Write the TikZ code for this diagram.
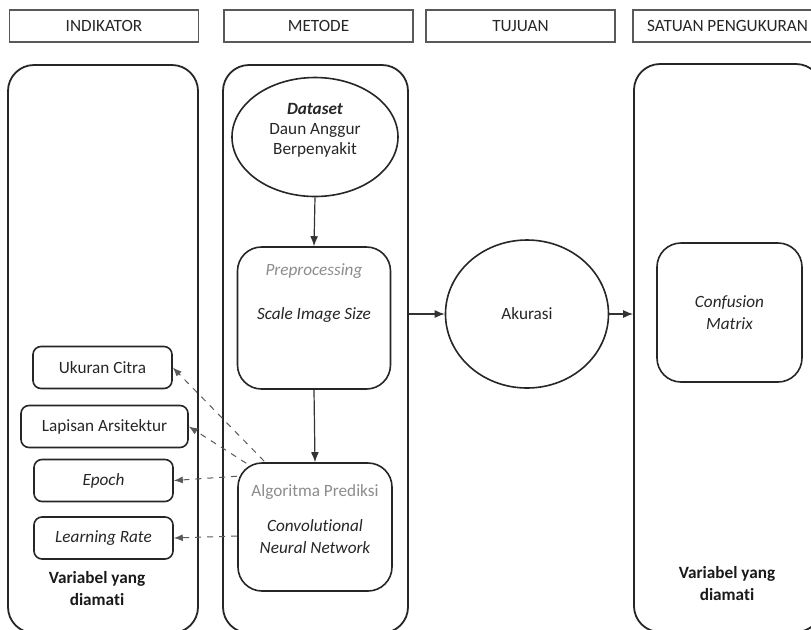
\documentclass[tikz,border=0pt]{standalone}
\usepackage{fontspec}
\setmainfont{Carlito}[Ligatures=NoCommon]
\usetikzlibrary{positioning,arrows.meta,shapes,calc}

\begin{document}
\begin{tikzpicture}[
  x=0.5pt,y=-0.5pt,
  font=\fontsize{8.6}{10.5}\selectfont,
  headbox/.style={rectangle,draw=black!65,line width=0.6pt,minimum width=94.5pt,minimum height=16pt,inner sep=0pt,text=black!85},
  colbox/.style={rectangle,draw=black!85,line width=0.9pt,rounded corners=13pt,minimum width=#1,minimum height=284pt,inner sep=0pt},
  stepbox/.style={rectangle,draw=black!85,line width=0.8pt,rounded corners=12pt,inner sep=0pt,align=center,text=black!85},
  varbox/.style={rectangle,draw=black!85,line width=0.8pt,rounded corners=4pt,minimum height=21pt,inner sep=0pt,text=black!85},
  roundnode/.style={ellipse,draw=black!85,line width=0.8pt,inner sep=0pt,align=center,text=black!85},
  faint/.style={text=black!45,inner sep=0pt},
  flow/.style={-{Latex[length=5pt,width=4pt]},line width=0.6pt,black!80},
  param/.style={-{Latex[length=4.5pt,width=3.5pt]},dashed,line width=0.5pt,black!65},
  note/.style={font=\fontsize{8.6}{11}\selectfont\bfseries,align=center,text=black!90},
]
\useasboundingbox (0,0) rectangle (811,629);
\clip (0,0) rectangle (811,629);

% === HEADERS ===
\node[headbox] (hInd) at (104,26)   {INDIKATOR};
\node[headbox] (hMet) at (318.5,26) {METODE};
\node[headbox] (hTuj) at (520.5,26) {TUJUAN};
\node[headbox] (hSat) at (727.5,26) {SATUAN PENGUKURAN};

% === COLUMNS ===
\node[colbox=95pt]   (colInd) at (103,349) {};
\node[colbox=92.5pt] (colMet) at (315.5,349) {};
\node[colbox=94pt]   (colSat) at (728,348) {};

% === METODE ===
\node[roundnode,minimum width=83pt,minimum height=59.5pt] (dataset) at (315,137) {};
\node[align=center,text=black!85,font=\fontsize{8.6}{10}\selectfont] (dataT) at (315,130)
  {\textbf{\textit{Dataset}}\\Daun Anggur\\Berpenyakit};

\node[stepbox,minimum width=76.5pt,minimum height=71pt] (prep) at (314,318) {};
\node[faint,font=\fontsize{8.6}{10.5}\selectfont\itshape] (prepT) at (314,271) {Preprocessing};
\node[text=black!85,font=\fontsize{8.6}{10.5}\selectfont\itshape] (prepM) at (314,315) {Scale Image Size};

\node[stepbox,minimum width=77pt,minimum height=64pt] (cnn) at (315,527) {};
\node[faint] (cnnT) at (315,492) {Algoritma Prediksi};
\node[text=black!85,align=center,font=\fontsize{8.6}{11}\selectfont\itshape] (cnnM) at (315,537) {Convolutional\\Neural Network};

\draw[flow] (dataset.south) -- (prep.north);
\draw[flow] (prep.south) -- (cnn.north);

% === TUJUAN ===
\node[roundnode,minimum width=81.5pt,minimum height=74pt] (akurasi) at (527,314) {Akurasi};
\draw[flow] (akurasi.west -| colMet.east) -- (akurasi.west);

% === SATUAN PENGUKURAN ===
\node[stepbox,minimum width=72.5pt,minimum height=69.5pt,font=\fontsize{8.6}{11}\selectfont\itshape] (confm) at (729.5,312.5) {Confusion\\Matrix};
\draw[flow] (akurasi.east) -- (akurasi.east -| colSat.west);
\node[note] (varSat) at (727,584) {Variabel yang\\diamati};

% === INDIKATOR ===
\node[varbox,minimum width=69.5pt] (ukuran)  at (102.5,367.5) {Ukuran Citra};
\node[varbox,minimum width=83.5pt] (lapisan) at (104.5,426.5) {Lapisan Arsitektur};
\node[varbox,minimum width=69.5pt,font=\fontsize{8.6}{10.5}\selectfont\itshape] (epoch) at (103.5,480.5) {Epoch};
\node[varbox,minimum width=69.5pt,font=\fontsize{8.6}{10.5}\selectfont\itshape] (lrate) at (103.5,538) {Learning Rate};
\node[note] (varInd) at (97,589) {Variabel yang\\diamati};

% parameters from CNN
\draw[param] ($(cnn.north west)+(27,-1)$) -- (ukuran.east);
\draw[param] ($(cnn.north west)+(9,1)$) -- (lapisan.east);
\draw[param] ($(cnn.north west)+(0,14)$) -- (epoch.east);
\draw[param] ($(cnn.west)+(0,9)$) -- (lrate.east);

\end{tikzpicture}
\end{document}
